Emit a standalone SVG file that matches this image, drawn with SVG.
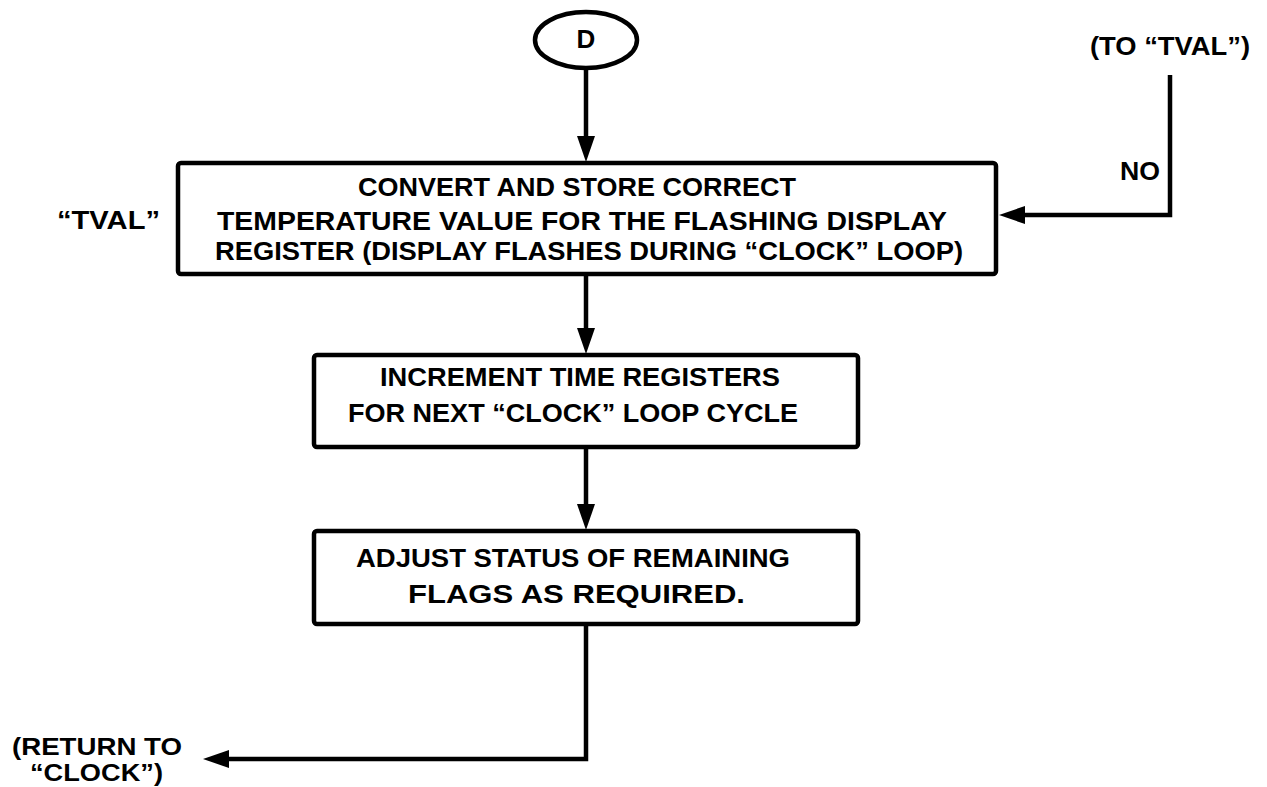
<svg xmlns="http://www.w3.org/2000/svg" width="1267" height="787" viewBox="0 0 1267 787">
<style>
.t{font-family:"Liberation Sans",Arial,sans-serif;font-weight:bold;font-size:26px;fill:#000}
.s{font-size:23px}
.box{fill:#fff;stroke:#000;stroke-width:4.5}
.ln{fill:none;stroke:#000;stroke-width:4.5;stroke-linejoin:miter}
</style>
<defs>
<marker id="ah" markerUnits="userSpaceOnUse" markerWidth="26" markerHeight="18" refX="16" refY="9" orient="auto">
<path d="M0,0 L26,9 L0,18 z" fill="#000"/>
</marker>
</defs>
<rect width="1267" height="787" fill="#fff"/>
<g id="connectors">
<path class="ln" d="M586,68 V152" marker-end="url(#ah)"/>
<path class="ln" d="M586,276 V344" marker-end="url(#ah)"/>
<path class="ln" d="M586,449 V520" marker-end="url(#ah)"/>
<path class="ln" d="M586,626 V759 H213" marker-end="url(#ah)"/>
<path class="ln" d="M1170,75 V215 H1009" marker-end="url(#ah)"/>
</g>
<g id="start-D">
<ellipse cx="586" cy="40" rx="51" ry="28" class="box"/>
<text class="t" x="586" y="48" text-anchor="middle">D</text>
</g>
<g id="tval-box">
<rect class="box" x="178" y="163" width="818" height="111" rx="3"/>
<text class="t" x="358" y="196" textLength="438" lengthAdjust="spacingAndGlyphs">CONVERT AND STORE CORRECT</text>
<text class="t" x="217" y="230" textLength="730" lengthAdjust="spacingAndGlyphs">TEMPERATURE VALUE FOR THE FLASHING DISPLAY</text>
<text class="t" x="215" y="260" textLength="748" lengthAdjust="spacingAndGlyphs">REGISTER (DISPLAY FLASHES DURING “CLOCK” LOOP)</text>
</g>
<g id="increment-box">
<rect class="box" x="314" y="355" width="544" height="92" rx="3"/>
<text class="t" x="380" y="386" textLength="400" lengthAdjust="spacingAndGlyphs">INCREMENT TIME REGISTERS</text>
<text class="t" x="348" y="422" textLength="450" lengthAdjust="spacingAndGlyphs">FOR NEXT “CLOCK” LOOP CYCLE</text>
</g>
<g id="adjust-box">
<rect class="box" x="314" y="531" width="544" height="93" rx="3"/>
<text class="t" x="356" y="567" textLength="434" lengthAdjust="spacingAndGlyphs">ADJUST STATUS OF REMAINING</text>
<text class="t" x="408" y="603" textLength="337" lengthAdjust="spacingAndGlyphs">FLAGS AS REQUIRED.</text>
</g>
<g id="label-tval">
<text class="t" x="57" y="229" textLength="103" lengthAdjust="spacingAndGlyphs">“TVAL”</text>
</g>
<g id="label-to-tval">
<text class="t" x="1090" y="55" textLength="160" lengthAdjust="spacingAndGlyphs">(TO “TVAL”)</text>
</g>
<g id="label-no">
<text class="t" x="1120" y="180" textLength="40" lengthAdjust="spacingAndGlyphs">NO</text>
</g>
<g id="label-return">
<text class="t s" x="12" y="755" textLength="170" lengthAdjust="spacingAndGlyphs">(RETURN TO</text>
<text class="t s" x="30" y="781" textLength="133" lengthAdjust="spacingAndGlyphs">“CLOCK”)</text>
</g>
</svg>
